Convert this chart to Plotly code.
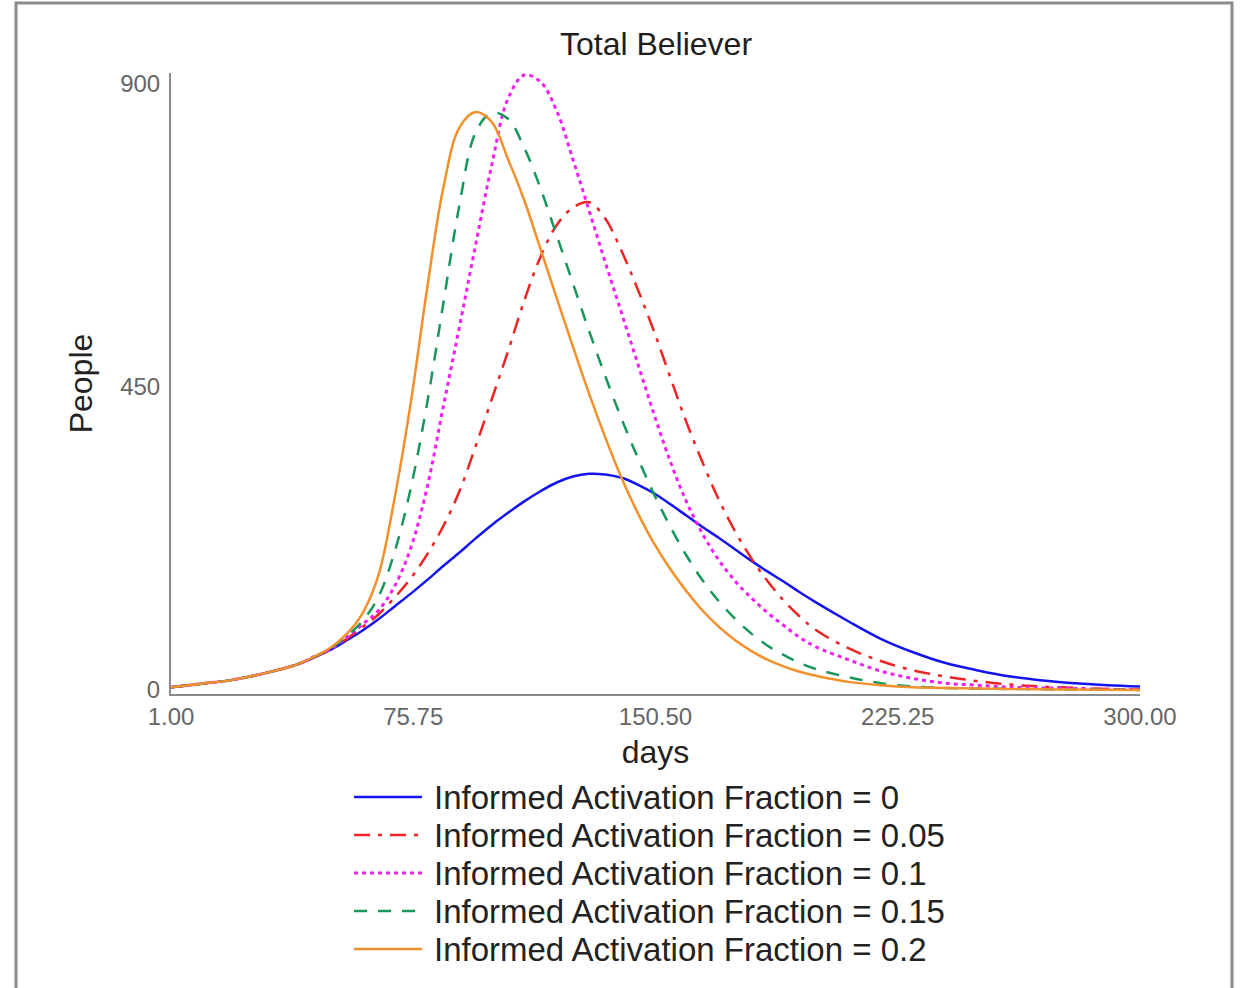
import plotly.graph_objects as go

# ---------------- data ----------------
days = [1, 10, 20, 30, 40, 45, 50, 55, 60, 65, 70, 75, 80, 85, 90, 95, 100, 105, 110,
        115, 120, 125, 130, 135, 140, 145, 150, 155, 160, 165, 170, 175, 180, 185, 190,
        195, 200, 210, 220, 230, 240, 250, 260, 270, 280, 290, 300]

fraction_0 = [4, 9, 15, 25, 38, 48, 59, 73, 88, 105, 124, 143, 163, 184, 204, 225, 245, 263, 280,
              295, 308, 317, 321, 320, 315, 305, 292, 276, 259, 242, 226, 209, 192, 176, 161,
              145, 130, 102, 76, 56, 40, 29, 20, 14, 10, 7, 5]

fraction_005 = [4, 9, 15, 25, 38, 48, 60, 75, 93, 112, 137, 166, 201, 243, 295, 362, 432, 503, 578,
                643, 690, 716, 724, 700, 652, 595, 533, 465, 398, 338, 283, 236, 196, 162, 133,
                109, 89, 62, 43, 29, 20, 13, 8, 5, 3, 1.5, 0.5]

fraction_01 = [4, 9, 15, 25, 38, 49, 60, 77, 97, 118, 154, 211, 300, 420, 539, 661, 780, 878, 913,
               903, 860, 788, 712, 635, 560, 485, 410, 340, 280, 232, 193, 162, 137, 115, 96,
               78, 64, 45, 28, 17, 10, 7, 4, 3, 2, 1, 0.5]

fraction_015 = [4, 9, 15, 25, 38, 49, 61, 79, 102, 138, 205, 300, 425, 573, 720, 828, 857, 848, 805,
                745, 675, 604, 533, 466, 403, 345, 291, 243, 200, 163, 132, 106, 84, 66, 52,
                40, 31, 19, 10, 5, 3, 2, 1.5, 1, 0.6, 0.3, 0]

fraction_02 = [4, 9, 15, 25, 38, 49, 62, 82, 113, 170, 285, 427, 595, 745, 835, 858, 843, 788, 727,
               655, 582, 510, 440, 375, 315, 263, 218, 180, 147, 118, 94, 74, 58, 45, 35,
               27, 21, 12, 7, 4, 3, 2, 1.5, 1, 0.5, 0.3, 0]

series_names = ["Informed Activation Fraction = 0",
                "Informed Activation Fraction = 0.05",
                "Informed Activation Fraction = 0.1",
                "Informed Activation Fraction = 0.15",
                "Informed Activation Fraction = 0.2"]
series_values = [fraction_0, fraction_005, fraction_01, fraction_015, fraction_02]

x_tick_vals = [1, 75.75, 150.5, 225.25, 300]
x_tick_text = ["1.00", "75.75", "150.50", "225.25", "300.00"]
y_tick_vals = [0, 450, 900]
y_tick_text = ["0", "450", "900"]

# ---------------- styles ----------------
colors = ["#1414f2", "#ee2424", "#f21ff2", "#17975a", "#f2902c"]
dashes = ["solid", "16px,8px,4px,8px", "4px,4px", "13px,11px", "solid"]
widths = [2.5, 2.5, 3, 2.5, 2.5]

FONT = "Liberation Sans, Arial, sans-serif"
W, H = 1243, 988
L, R, T, B = 171, 1140, 73, 694   # plot area in pixels


def px_x(px):
    return (px - L) / (R - L)


def px_y(py):
    return (B - py) / (B - T)


fig = go.Figure()
for name, vals, c, d, w in zip(series_names, series_values, colors, dashes, widths):
    fig.add_trace(go.Scatter(x=days, y=vals, name=name, mode="lines",
                             line=dict(color=c, dash=d, width=w, shape="spline", smoothing=1.0),
                             showlegend=False))

# manual legend (long line samples like the reference)
row_y = [797, 835, 873, 911, 949]
for name, c, d, w, ry in zip(series_names, colors, dashes, widths, row_y):
    fig.add_shape(type="line", xref="paper", yref="paper",
                  x0=px_x(354), x1=px_x(422), y0=px_y(ry), y1=px_y(ry),
                  line=dict(color=c, dash=d, width=w))
    fig.add_annotation(text=name, xref="paper", yref="paper",
                       x=px_x(432), y=px_y(ry), xanchor="left", yanchor="middle",
                       showarrow=False, font=dict(family=FONT, size=33, color="#222222"))

# outer frame
fig.add_shape(type="rect", xref="paper", yref="paper",
              x0=px_x(16), x1=px_x(1232), y0=px_y(1010), y1=px_y(3),
              line=dict(color="#8c8c8c", width=3), fillcolor="rgba(0,0,0,0)", layer="below")

fig.update_layout(
    width=W, height=H,
    margin=dict(l=L, r=W - R, t=T, b=H - B, pad=0),
    paper_bgcolor="white", plot_bgcolor="white",
    font=dict(family=FONT, color="#222222"),
    title=dict(text="Total Believer", x=656 / W, xanchor="center",
               y=1 - 44 / H, yanchor="middle",
               font=dict(family=FONT, size=32, color="#1e1e1e")),
    xaxis=dict(range=[1, 300], tickvals=x_tick_vals, ticktext=x_tick_text,
               showgrid=False, zeroline=False, showline=True, linecolor="#8a8a8a", linewidth=2,
               ticks="", tickfont=dict(family=FONT, size=24, color="#666666"),
               title=dict(text="days", font=dict(family=FONT, size=32, color="#222222"), standoff=12)),
    yaxis=dict(range=[-6, 916], tickvals=y_tick_vals, ticktext=y_tick_text,
               showgrid=False, zeroline=False, showline=True, linecolor="#8a8a8a", linewidth=2,
               ticks="", tickfont=dict(family=FONT, size=24, color="#666666"),
               ticklabelstandoff=4,
               title=dict(text="People", font=dict(family=FONT, size=32, color="#222222"), standoff=18)),
)

fig.write_html("out.html")
